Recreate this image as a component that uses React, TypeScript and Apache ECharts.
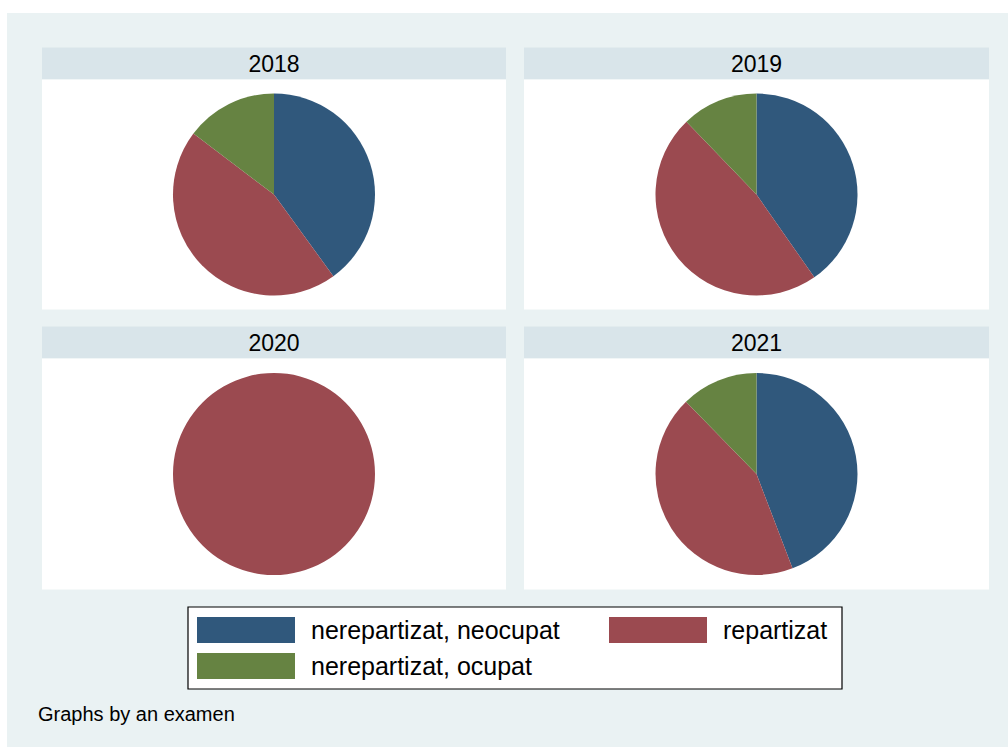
import React, { useEffect, useRef } from "react";
import * as echarts from "echarts";

const categories = ["nerepartizat, neocupat", "repartizat", "nerepartizat, ocupat"];
const years = ["2018", "2019", "2020", "2021"];
const values2018 = [40.0, 45.3, 14.7];
const values2019 = [40.3, 47.5, 12.2];
const values2020 = [0, 100, 0];
const values2021 = [44.2, 43.5, 12.3];
const seriesValues = [values2018, values2019, values2020, values2021];
const colors = ["#30587C", "#9B4A50", "#668342"];
const noteText = "Graphs by an examen";

const FONT = "'Liberation Sans', Arial, Helvetica, sans-serif";

export default function App() {
  const ref = useRef<HTMLDivElement>(null);

  useEffect(() => {
    if (!ref.current) return;
    const chart = echarts.init(ref.current, undefined, { renderer: "svg" });

    const panels = [
      { x: 42, w: 464, hy: 47.5, ph: 230 },
      { x: 524, w: 465, hy: 47.5, ph: 230 },
      { x: 42, w: 464, hy: 326.5, ph: 231 },
      { x: 524, w: 465, hy: 326.5, ph: 231 },
    ];
    const headerH = 32;

    const graphics: any[] = [
      { type: "rect", shape: { x: 7, y: 13, width: 1001, height: 734 }, style: { fill: "#EAF2F3" }, silent: true },
    ];
    const series: any[] = [];

    panels.forEach((p, i) => {
      graphics.push({
        type: "rect",
        shape: { x: p.x, y: p.hy, width: p.w, height: headerH },
        style: { fill: "#D9E5EA" },
        silent: true,
      });
      graphics.push({
        type: "rect",
        shape: { x: p.x, y: p.hy + headerH, width: p.w, height: p.ph },
        style: { fill: "#FFFFFF" },
        silent: true,
      });
      graphics.push({
        type: "text",
        x: p.x + p.w / 2,
        y: p.hy + headerH / 2 + 0.5,
        style: {
          text: years[i],
          fill: "#000000",
          font: `23px ${FONT}`,
          textAlign: "center",
          textVerticalAlign: "middle",
        },
        silent: true,
      });
      series.push({
        type: "pie",
        name: years[i],
        center: [p.x + p.w / 2, p.hy + headerH + p.ph / 2],
        radius: 101,
        startAngle: 90,
        clockwise: true,
        silent: true,
        label: { show: false },
        labelLine: { show: false },
        emphasis: { disabled: true },
        itemStyle: { borderWidth: 0 },
        data: categories.map((c, k) => ({
          name: c,
          value: seriesValues[i][k],
          itemStyle: { color: colors[k], borderWidth: 0 },
        })),
      });
    });

    graphics.push({
      type: "rect",
      shape: { x: 188, y: 607, width: 654, height: 82 },
      style: { fill: "#FFFFFF", stroke: "#000000", lineWidth: 1.2 },
      silent: true,
    });
    graphics.push({
      type: "text",
      x: 38,
      y: 714,
      style: {
        text: noteText,
        fill: "#000000",
        font: `20px ${FONT}`,
        textAlign: "left",
        textVerticalAlign: "middle",
      },
      silent: true,
    });

    const legendCommon = {
      orient: "vertical",
      top: 617,
      itemWidth: 98,
      itemHeight: 26,
      itemGap: 10,
      padding: 0,
      icon: "rect",
      selectedMode: false,
      itemStyle: { borderWidth: 0 },
      textStyle: {
        fontFamily: FONT,
        fontSize: 25,
        color: "#000000",
        lineHeight: 26,
        padding: [0, 0, 0, 11],
      },
    };

    chart.setOption({
      animation: false,
      backgroundColor: "#FFFFFF",
      graphic: { elements: graphics },
      legend: [
        { ...legendCommon, left: 197, data: [categories[0], categories[2]] },
        { ...legendCommon, left: 609, data: [categories[1]] },
      ],
      series,
    });

    return () => chart.dispose();
  }, []);

  return (
    <div
      ref={ref}
      style={{ position: "absolute", left: 0, top: 0, width: 1008, height: 747 }}
    />
  );
}
